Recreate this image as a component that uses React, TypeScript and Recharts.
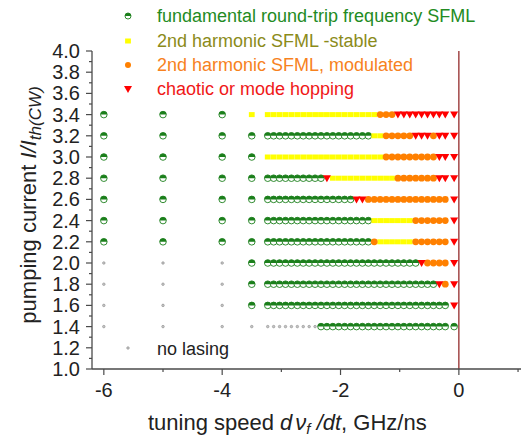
import { ScatterChart, Scatter, XAxis, YAxis, ReferenceLine, Customized } from "recharts"

// pumping current rows, top to bottom
const pumpLevels = [3.4, 3.2, 3.0, 2.8, 2.6, 2.4, 2.2, 2.0, 1.8, 1.6, 1.4]

// F fundamental, S 2nd harmonic stable, M 2nd harmonic modulated, C chaotic, N no lasing
const sparseSpeeds = [-6, -5, -4, -3.5]
const sparseStates = ["FFFS", "FFFF", "FFFF", "FFFF", "FFFF", "FFFF", "FFFF", "NNNF", "NNNF", "NNNF", "NNNN"]

const denseSpeeds = [
  -3.23, -3.13, -3.03, -2.93, -2.83, -2.73, -2.63, -2.53, -2.43, -2.33, -2.23, -2.13, -2.03, -1.93, -1.83, -1.73,
  -1.63, -1.53, -1.43, -1.33, -1.23, -1.13, -1.03, -0.93, -0.83, -0.73, -0.63, -0.53, -0.43, -0.33, -0.23,
]
// run lengths along denseSpeeds, one entry per row
const denseRuns = [
  "S19 M3 C9",
  "F18 S2 M5 C3 M1 C2",
  "S20 M9 C2",
  "F10 C1 S11 M7 C2",
  "F15 C2 M14",
  "F18 S7 M6",
  "F18 M1 S6 M6",
  "F26 C1 M4",
  "F29 C1 M1",
  "F31",
  "N9 F22",
]

const edgeSpeed = -0.08
const edgeStates = "CCCCCCCCCCF"

const xTicks = [-6, -5, -4, -3, -2, -1, 0, 1]
const yTicks = [
  1.0, 1.1, 1.2, 1.3, 1.4, 1.5, 1.6, 1.7, 1.8, 1.9, 2.0, 2.1, 2.2, 2.3, 2.4, 2.5, 2.6, 2.7, 2.8, 2.9, 3.0, 3.1,
  3.2, 3.3, 3.4, 3.5, 3.6, 3.7, 3.8, 3.9, 4.0,
]

type Pt = { x: number; y: number }
const byState: Record<string, Pt[]> = { F: [], S: [], M: [], C: [], N: [] }
pumpLevels.forEach((y, r) => {
  sparseStates[r].split("").forEach((s, i) => byState[s].push({ x: sparseSpeeds[i], y }))
  const states = denseRuns[r]
    .split(" ")
    .flatMap((tok) => Array(Number(tok.slice(1))).fill(tok[0]) as string[])
  states.forEach((s, i) => byState[s].push({ x: denseSpeeds[i], y }))
  byState[edgeStates[r]].push({ x: edgeSpeed, y })
})

const FONT = "'Liberation Sans', Arial, sans-serif"
const AXIS = "#4a4a4a"
const GREEN = "#1b7f1b"
const YELLOW = "#ffff00"
const ORANGE = "#ff8000"
const RED = "#ff0000"

const HalfDot = ({ cx, cy, r = 3.3 }: any) => (
  <g>
    <circle cx={cx} cy={cy} r={r} fill="#fff" stroke={GREEN} strokeWidth={0.9} />
    <path d={`M${cx - r},${cy} A${r},${r} 0 0 1 ${cx + r},${cy} Z`} fill={GREEN} />
  </g>
)
const Square = ({ cx, cy }: any) => <rect x={cx - 2.9} y={cy - 2.5} width={5.8} height={5} fill={YELLOW} />
const Dot = ({ cx, cy, r = 3.4 }: any) => <circle cx={cx} cy={cy} r={r} fill={ORANGE} />
const Tri = ({ cx, cy }: any) => (
  <polygon points={`${cx - 4},${cy - 3} ${cx + 4},${cy - 3} ${cx},${cy + 4}`} fill={RED} />
)
const Grey = ({ cx, cy }: any) => <circle cx={cx} cy={cy} r={1.3} fill="#c4c4c4" stroke="#808080" strokeWidth={0.5} />

const XTick = ({ x, y, payload }: any) => {
  const v = payload.value
  const major = v % 2 === 0
  return (
    <g>
      <line x1={x} x2={x} y1={y} y2={y + (major ? 6 : 3)} stroke={AXIS} strokeWidth={1.2} />
      {major && (
        <text x={x} y={y + 28} textAnchor="middle" fontSize={20} fontFamily={FONT} fill="#222">
          {String(v)}
        </text>
      )}
    </g>
  )
}

const YTick = ({ x, y, payload }: any) => {
  const v = payload.value
  const major = Math.round(v * 10) % 2 === 0
  return (
    <g>
      <line x1={x - (major ? 6 : 3)} x2={x} y1={y} y2={y} stroke={AXIS} strokeWidth={1.2} />
      {major && (
        <text x={x - 12} y={y + 7} textAnchor="end" fontSize={20} fontFamily={FONT} fill="#222">
          {v.toFixed(1)}
        </text>
      )}
    </g>
  )
}

const legendRows = [
  { label: "fundamental round-trip frequency SFML", color: "#238b23", marker: HalfDot, y: 22 },
  { label: "2nd harmonic SFML -stable", color: "#8b8b1a", marker: Square, y: 47 },
  { label: "2nd harmonic SFML, modulated", color: "#f7821e", marker: Dot, y: 71 },
  { label: "chaotic or mode hopping", color: "#f01818", marker: Tri, y: 95 },
]

const Annotations = () => (
  <g fontFamily={FONT}>
    {legendRows.map(({ label, color, marker: M, y }) => (
      <g key={label}>
        <M cx={128} cy={y - 6} r={3} />
        <text x={157} y={y} fontSize={18} fill={color}>
          {label}
        </text>
      </g>
    ))}
    <Grey cx={128} cy={348} />
    <text x={157} y={355} fontSize={18} fill="#222">
      no lasing
    </text>
    <text x={148} y={430} fontSize={22} fill="#222">
      <tspan>tuning speed </tspan>
      <tspan fontStyle="italic">d</tspan>
      <tspan fontStyle="italic" dx={3}>
        ν
      </tspan>
      <tspan fontStyle="italic" fontSize={15} dy={4}>
        f
      </tspan>
      <tspan fontStyle="italic" dy={-4}>
        {" /dt"}
      </tspan>
      <tspan>, GHz/ns</tspan>
    </text>
    <text transform="translate(36,205) rotate(-90)" textAnchor="middle" fontSize={22} fill="#222">
      <tspan>pumping current </tspan>
      <tspan fontStyle="italic">I/I</tspan>
      <tspan fontStyle="italic" fontSize={17} dy={5}>
        th(CW)
      </tspan>
    </text>
  </g>
)

export default function App() {
  return (
    <div style={{ position: "absolute", left: 0, top: 0, background: "#fff" }}>
      <ScatterChart width={521} height={437} margin={{ top: 51, right: 0, bottom: 0, left: 0 }}>
        <XAxis
          type="number"
          dataKey="x"
          domain={[-6.2, 1.05]}
          allowDataOverflow
          ticks={xTicks}
          interval={0}
          height={68}
          tickLine={false}
          tickSize={0}
          tickMargin={0}
          axisLine={{ stroke: AXIS, strokeWidth: 1.3 }}
          tick={<XTick />}
        />
        <YAxis
          type="number"
          dataKey="y"
          domain={[1, 4]}
          allowDataOverflow
          ticks={yTicks}
          interval={0}
          width={92}
          tickLine={false}
          tickSize={0}
          tickMargin={0}
          axisLine={{ stroke: AXIS, strokeWidth: 1.3 }}
          tick={<YTick />}
        />
        <ReferenceLine x={0} stroke="#8b1a1a" strokeWidth={1.2} />
        <Scatter data={byState.N} shape={Grey} isAnimationActive={false} />
        <Scatter data={byState.F} shape={HalfDot} isAnimationActive={false} />
        <Scatter data={byState.S} shape={Square} isAnimationActive={false} />
        <Scatter data={byState.M} shape={Dot} isAnimationActive={false} />
        <Scatter data={byState.C} shape={Tri} isAnimationActive={false} />
        <Customized component={Annotations} />
      </ScatterChart>
    </div>
  )
}
